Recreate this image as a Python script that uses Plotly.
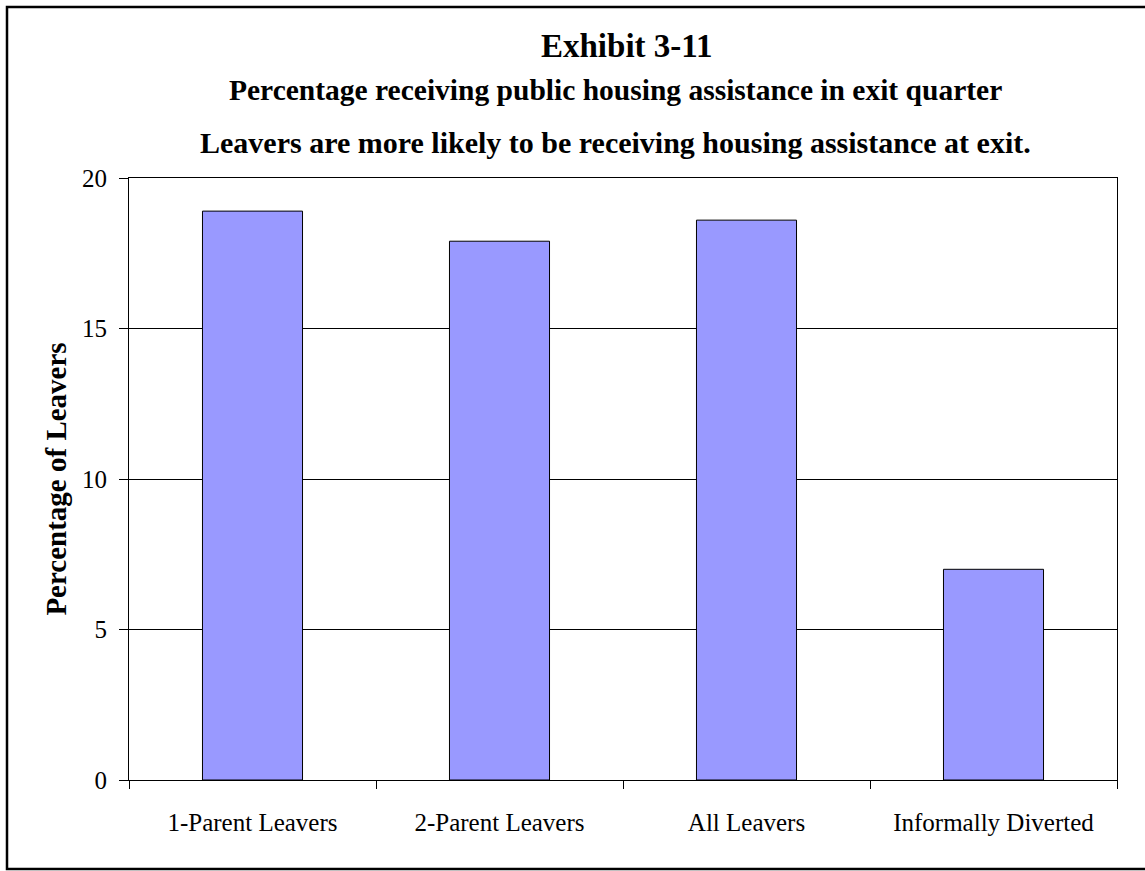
import plotly.graph_objects as go

categories = ["1-Parent Leavers", "2-Parent Leavers", "All Leavers", "Informally Diverted"]
values = [18.9, 17.9, 18.6, 7.0]
y_ticks = [0, 5, 10, 15, 20]

title_main = "Exhibit 3-11"
title_sub = "Percentage receiving public housing assistance in exit quarter"
title_note = "Leavers are more likely to be receiving housing assistance at exit."
y_title = "Percentage of Leavers"

W, H = 1145, 871
L, R, T, B = 129, 1117, 178, 780
pw, ph = R - L, B - T

def px_x(x):
    return (x - L) / pw

def px_y(y):
    return (B - y) / ph

fig = go.Figure(go.Bar(
    x=categories, y=values,
    marker=dict(color="#9999FF", line=dict(color="#000000", width=1)),
    width=0.405,
    hoverinfo="skip",
))

font_serif = "Liberation Serif, Times New Roman, serif"

fig.update_layout(
    width=W, height=H,
    margin=dict(l=L, r=W - R, t=T, b=H - B),
    paper_bgcolor="white", plot_bgcolor="white",
    showlegend=False,
    font=dict(family=font_serif, color="black", size=25),
    xaxis=dict(
        showline=True, linecolor="black", linewidth=1, mirror=True,
        ticks="outside", ticklen=8, tickcolor="black", tickson="boundaries",
        tickfont=dict(size=25, family=font_serif, color="black"),
        ticklabelstandoff=20,
        showgrid=False,
    ),
    yaxis=dict(
        range=[0, 20], tickvals=y_ticks,
        showline=True, linecolor="black", linewidth=1, mirror=True,
        ticks="outside", ticklen=9, tickcolor="black",
        showgrid=True, gridcolor="black", gridwidth=1,
        tickfont=dict(size=25, family=font_serif, color="black"),
        ticklabelstandoff=7,
        zeroline=False,
        title=dict(text="<b>" + y_title + "</b>", font=dict(size=29, family=font_serif, color="black"), standoff=6),
    ),
    annotations=[
        dict(text="<b>" + title_main + "</b>", xref="paper", yref="paper",
             x=px_x(626), y=px_y(46), xanchor="center", yanchor="middle",
             showarrow=False, font=dict(size=33, family=font_serif, color="black")),
        dict(text="<b>" + title_sub + "</b>", xref="paper", yref="paper",
             x=px_x(615), y=px_y(90), xanchor="center", yanchor="middle",
             showarrow=False, font=dict(size=29.5, family=font_serif, color="black")),
        dict(text="<b>" + title_note + "</b>", xref="paper", yref="paper",
             x=px_x(615), y=px_y(143), xanchor="center", yanchor="middle",
             showarrow=False, font=dict(size=30, family=font_serif, color="black")),
    ],
    shapes=[
        dict(type="rect", xref="paper", yref="paper",
             x0=px_x(7), x1=px_x(1160), y0=px_y(869), y1=px_y(7),
             line=dict(color="black", width=2.5), fillcolor="rgba(0,0,0,0)", layer="below"),
    ],
)

fig.write_html("out.html", config={"displayModeBar": False},
               post_script="document.body.style.margin='0';")
